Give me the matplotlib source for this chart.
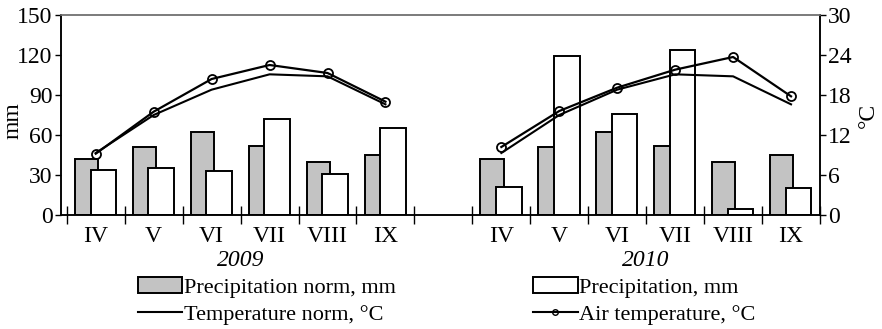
import numpy as np
import matplotlib.pyplot as plt
from matplotlib.lines import Line2D
from matplotlib.patches import Patch

plt.rcParams['font.family'] = ['Liberation Serif', 'DejaVu Serif']

# data
months = ['IV', 'V', 'VI', 'VII', 'VIII', 'IX']
years = ['2009', '2010']
precip_norm = [42, 51, 62, 52, 40, 45]
precip_2009 = [34, 35, 33, 72, 31, 65]
precip_2010 = [21, 119, 76, 124, 4.5, 20.5]
temp_norm = [9.3, 15.0, 18.8, 21.1, 20.8, 16.6]
temp_2009 = [9.2, 15.5, 20.4, 22.5, 21.3, 17.0]
temp_2010 = [10.2, 15.6, 19.1, 21.8, 23.7, 17.8]

grey = '#c3c3c3'
fs = 17

fig = plt.figure(figsize=(8.82, 3.29), dpi=100)
ax = fig.add_axes([61 / 882, 1 - 215 / 329, (820 - 61) / 882, 200 / 329])
ax2 = ax.twinx()

x09 = np.arange(6)
x10 = np.arange(7, 13)

for xs, pr in [(x09, precip_2009), (x10, precip_2010)]:
    ax.bar(xs - 0.36, precip_norm, width=0.40, align='edge', color=grey,
           edgecolor='black', linewidth=1.4, zorder=2)
    ax.bar(xs - 0.09, pr, width=0.44, align='edge', color='white',
           edgecolor='black', linewidth=1.4, zorder=3)

for xs, t in [(x09, temp_2009), (x10, temp_2010)]:
    ax2.plot(xs, temp_norm, color='black', lw=1.5)
    ax2.plot(xs, t, color='black', lw=1.6, marker='o', ms=6.5,
             mfc='none', mec='black', mew=1.3)

ax.set_xlim(-0.6, 12.5)
ax.set_ylim(0, 150)
ax2.set_ylim(0, 30)
ax.set_yticks(np.arange(0, 151, 30))
ax2.set_yticks(np.arange(0, 31, 6))

bounds = list(np.arange(-0.5, 6, 1)) + list(np.arange(6.5, 13, 1))
ax.set_xticks(bounds)
ax.set_xticklabels([])
ax.set_xticks(list(x09) + list(x10), minor=True)
ax.set_xticklabels(months + months, minor=True)
ax.tick_params(axis='x', which='major', direction='inout', length=13, width=1)
ax.tick_params(axis='x', which='minor', length=0, pad=8, labelsize=fs)
ax.tick_params(axis='y', length=4, width=1, pad=2, labelsize=fs)
ax2.tick_params(axis='y', length=4, width=1, pad=2, labelsize=fs)

for a in (ax, ax2):
    for s in a.spines.values():
        s.set_linewidth(1.1)
    a.spines['top'].set_color('#777777')

ax.set_ylabel('mm', fontsize=fs)
ax.yaxis.set_label_coords(-0.05, 0.47)
ax2.set_ylabel('°C', fontsize=fs)
ax2.yaxis.set_label_coords(1.05, 0.5)

for xs, yr in [(x09, years[0]), (x10, years[1])]:
    ax.text(xs.mean(), -0.225, yr, transform=ax.get_xaxis_transform(),
            ha='center', va='center', fontsize=fs, style='italic')

handles = [
    Patch(facecolor=grey, edgecolor='black', linewidth=1.4),
    Line2D([], [], color='black', lw=1.5),
    Patch(facecolor='white', edgecolor='black', linewidth=1.4),
    Line2D([], [], color='black', lw=1.5, marker='o', ms=4, mfc='none', mew=1),
]
labels = ['Precipitation norm, mm', 'Temperature norm, °C',
          'Precipitation, mm', 'Air temperature, °C']
fig.legend(handles, labels, ncol=2, loc='upper left',
           bbox_to_anchor=(138 / 882, 1 - 277 / 329), frameon=False,
           fontsize=16, handlelength=2.0, handletextpad=0.05,
           columnspacing=6.2, labelspacing=0.3, borderpad=0, borderaxespad=0)

fig.savefig('out.png', dpi=100)
